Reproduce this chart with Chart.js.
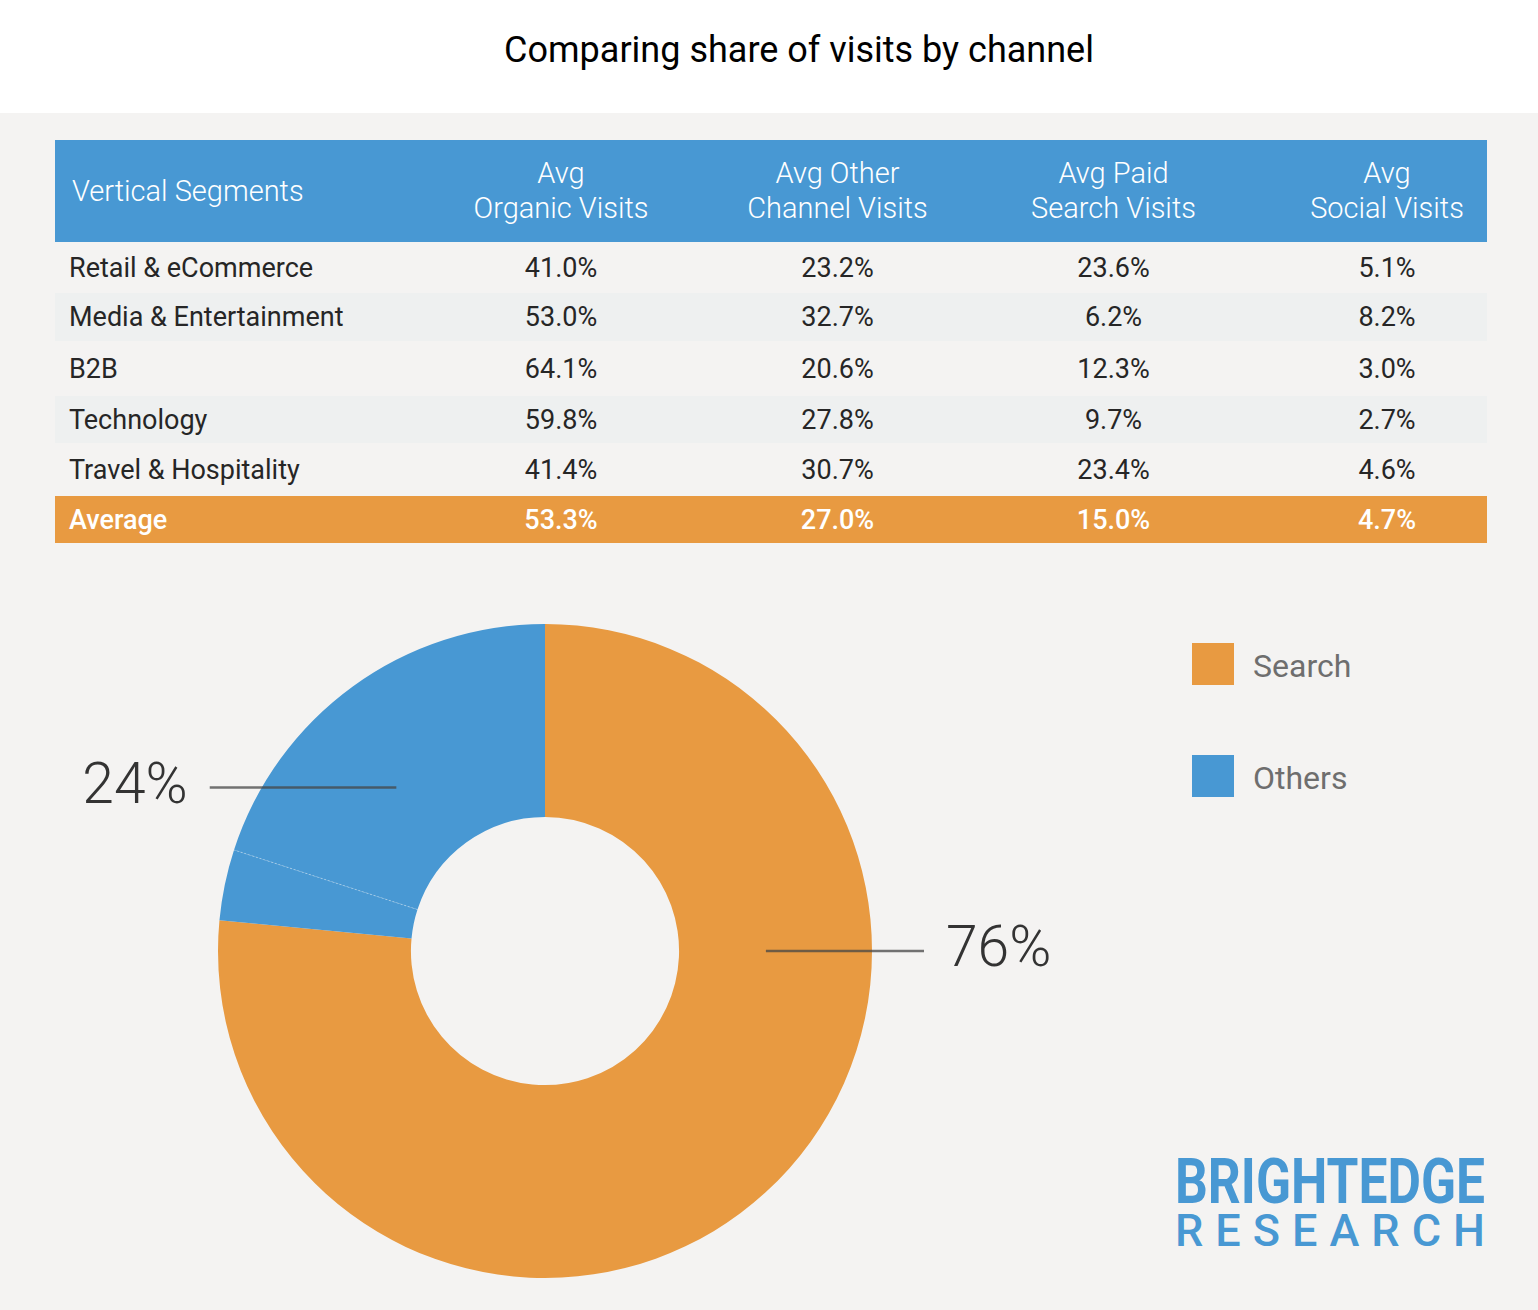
<!DOCTYPE html>
<html>
<head>
<meta charset="utf-8">
<title>Comparing share of visits by channel</title>
<script src="https://cdn.jsdelivr.net/npm/chart.js@4.4.0/dist/chart.umd.min.js"></script>
<style>
  body { margin: 0; width: 1538px; height: 1310px; background: #f4f3f2; position: relative; overflow: hidden; font-family: Roboto, "Noto Sans", sans-serif; }
  #top { position: absolute; left: 0; top: 0; width: 1538px; height: 113px; background: #fff; }
  #title { position: absolute; left: 30px; top: 32px; width: 1538px; text-align: center; font-size: 36px; line-height: 36px; color: #000; }
  #segments { position: absolute; left: 55px; top: 140px; width: 1432px; border-collapse: collapse; table-layout: fixed; }
  #segments th { background: #4898d3; color: #fff; font-weight: 300; font-size: 29px; line-height: 35px; height: 102px; padding: 0; text-align: center; }
  #segments th.seg { text-align: left; padding-left: 17px; }
  #segments td { font-size: 27px; color: #262626; text-align: center; padding: 0; }
  #segments td.seg { text-align: left; padding-left: 14px; }
  #segments tr.even td { background: #eef0f0; }
  #segments tr.avg td { background: #e89a41; color: #fff; font-weight: 500; }
  #segments .last { padding-left: 36px !important; }
  #segments tbody tr:nth-child(1) td { height: 51px; }
  #segments tbody tr:nth-child(2) td { height: 48px; }
  #segments tbody tr:nth-child(3) td { height: 55px; }
  #segments tbody tr:nth-child(4) td { height: 47px; }
  #segments tbody tr:nth-child(5) td { height: 53px; }
  #segments tbody tr:nth-child(6) td { height: 47px; }
  #shareChart { position: absolute; left: 0; top: 560px; }
  #legend { position: absolute; left: 1192px; top: 643px; }
  .legend-item { display: flex; align-items: center; height: 42px; margin-bottom: 70px; font-size: 32px; color: #6e6e6e; }
  .legend-item span.txt { position: relative; top: 2px; }
  .legend-box { width: 42px; height: 42px; margin-right: 19px; }
  #logo { position: absolute; left: 1170px; top: 1150px; }
</style>
</head>
<body>
<div id="top"></div>
<div id="title">Comparing share of visits by channel</div>

<table id="segments">
  <colgroup>
    <col style="width:368px"><col style="width:276px"><col style="width:277px"><col style="width:275px"><col style="width:236px">
  </colgroup>
  <thead><tr id="headRow"></tr></thead>
  <tbody id="bodyRows"></tbody>
</table>

<canvas id="shareChart" width="1100" height="750"></canvas>
<div id="legend"></div>

<svg id="logo" width="330" height="110">
  <text x="5" y="53" textLength="310" lengthAdjust="spacingAndGlyphs" font-family="Roboto" font-weight="700" font-size="63" fill="#4898d3">BRIGHTEDGE</text>
  <text x="5" y="96" textLength="310" lengthAdjust="spacing" font-family="Roboto" font-weight="500" font-size="45" fill="#4898d3">RESEARCH</text>
</svg>

<script>
  // table data
  var columnHeads = ["Vertical Segments", "Avg<br>Organic Visits", "Avg Other<br>Channel Visits", "Avg Paid<br>Search Visits", "Avg<br>Social Visits"];
  var segments = ["Retail & eCommerce", "Media & Entertainment", "B2B", "Technology", "Travel & Hospitality", "Average"];
  var organicVisits = ["41.0%", "53.0%", "64.1%", "59.8%", "41.4%", "53.3%"];
  var otherVisits = ["23.2%", "32.7%", "20.6%", "27.8%", "30.7%", "27.0%"];
  var paidVisits = ["23.6%", "6.2%", "12.3%", "9.7%", "23.4%", "15.0%"];
  var socialVisits = ["5.1%", "8.2%", "3.0%", "2.7%", "4.6%", "4.7%"];

  // doughnut data
  var shareLabels = ["Search", "Others"];
  var sharePercents = [76, 24];
  var shareColors = ["#e89a41", "#4898d3"];
  var sliceGroups = [0, 1, 1];
  var sliceValues = [76.5, 3.5, 20];

  var headRow = document.getElementById('headRow');
  columnHeads.forEach(function (h, i) {
    var th = document.createElement('th');
    th.innerHTML = h;
    if (i === 0) th.className = 'seg';
    if (i === 4) th.className = 'last';
    headRow.appendChild(th);
  });

  var bodyRows = document.getElementById('bodyRows');
  segments.forEach(function (s, r) {
    var tr = document.createElement('tr');
    if (r === segments.length - 1) tr.className = 'avg';
    else if (r % 2 === 1) tr.className = 'even';
    [s, organicVisits[r], otherVisits[r], paidVisits[r], socialVisits[r]].forEach(function (v, c) {
      var td = document.createElement('td');
      td.textContent = v;
      if (c === 0) td.className = 'seg';
      if (c === 4) td.className = 'last';
      tr.appendChild(td);
    });
    bodyRows.appendChild(tr);
  });

  var legend = document.getElementById('legend');
  shareLabels.forEach(function (l, i) {
    var item = document.createElement('div');
    item.className = 'legend-item';
    item.innerHTML = '<span class="legend-box" style="background:' + shareColors[i] + '"></span><span class="txt">' + l + '</span>';
    legend.appendChild(item);
  });

  // angle for each callout, null = middle of the group
  var calloutAngles = [0, null];

  var calloutPlugin = {
    id: 'callouts',
    afterDatasetsDraw: function (chart) {
      var ctx = chart.ctx;
      var arcs = chart.getDatasetMeta(0).data;
      var cx = arcs[0].x, cy = arcs[0].y;
      var outer = arcs[0].outerRadius, inner = arcs[0].innerRadius;
      var lineR = inner + (outer - inner) * 0.45;
      ctx.save();

      // faint seam between slices of the same group
      for (var i = 1; i < arcs.length; i++) {
        if (sliceGroups[i] !== sliceGroups[i - 1]) continue;
        var a = arcs[i].startAngle;
        ctx.strokeStyle = 'rgba(255,255,255,0.35)';
        ctx.lineWidth = 1;
        ctx.setLineDash([2, 2]);
        ctx.beginPath();
        ctx.moveTo(cx + inner * Math.cos(a), cy + inner * Math.sin(a));
        ctx.lineTo(cx + outer * Math.cos(a), cy + outer * Math.sin(a));
        ctx.stroke();
        ctx.setLineDash([]);
      }

      shareLabels.forEach(function (label, g) {
        var start = null, end = null;
        arcs.forEach(function (arc, k) {
          if (sliceGroups[k] !== g) return;
          if (start === null) start = arc.startAngle;
          end = arc.endAngle;
        });
        var ang = calloutAngles[g] === null ? (start + end) / 2 : calloutAngles[g];
        var px = cx + lineR * Math.cos(ang);
        var py = cy + lineR * Math.sin(ang);
        var side = Math.cos(ang) >= 0 ? 1 : -1;
        var edge = cx + side * Math.sqrt(outer * outer - (py - cy) * (py - cy));
        var endX = edge + side * 52;

        ctx.strokeStyle = 'rgba(70,70,70,0.75)';
        ctx.lineWidth = 2.5;
        ctx.beginPath();
        ctx.moveTo(px, py);
        ctx.lineTo(endX, py);
        ctx.stroke();

        ctx.fillStyle = '#333';
        ctx.font = '300 57px Roboto';
        ctx.textBaseline = 'middle';
        ctx.textAlign = side > 0 ? 'left' : 'right';
        ctx.fillText(sharePercents[g] + '%', endX + side * 22, py + 1);
      });
      ctx.restore();
    }
  };

  new Chart("shareChart", {
    type: "doughnut",
    data: {
      labels: sliceGroups.map(function (g) { return shareLabels[g]; }),
      datasets: [{
        data: sliceValues,
        backgroundColor: sliceGroups.map(function (g) { return shareColors[g]; }),
        borderWidth: 0,
        hoverOffset: 0
      }]
    },
    options: {
      responsive: false,
      animation: false,
      events: [],
      cutout: '41%',
      layout: { padding: { left: 218, right: 228, top: 64, bottom: 32 } },
      plugins: {
        legend: { display: false },
        tooltip: { enabled: false }
      }
    },
    plugins: [calloutPlugin]
  });
</script>
</body>
</html>
